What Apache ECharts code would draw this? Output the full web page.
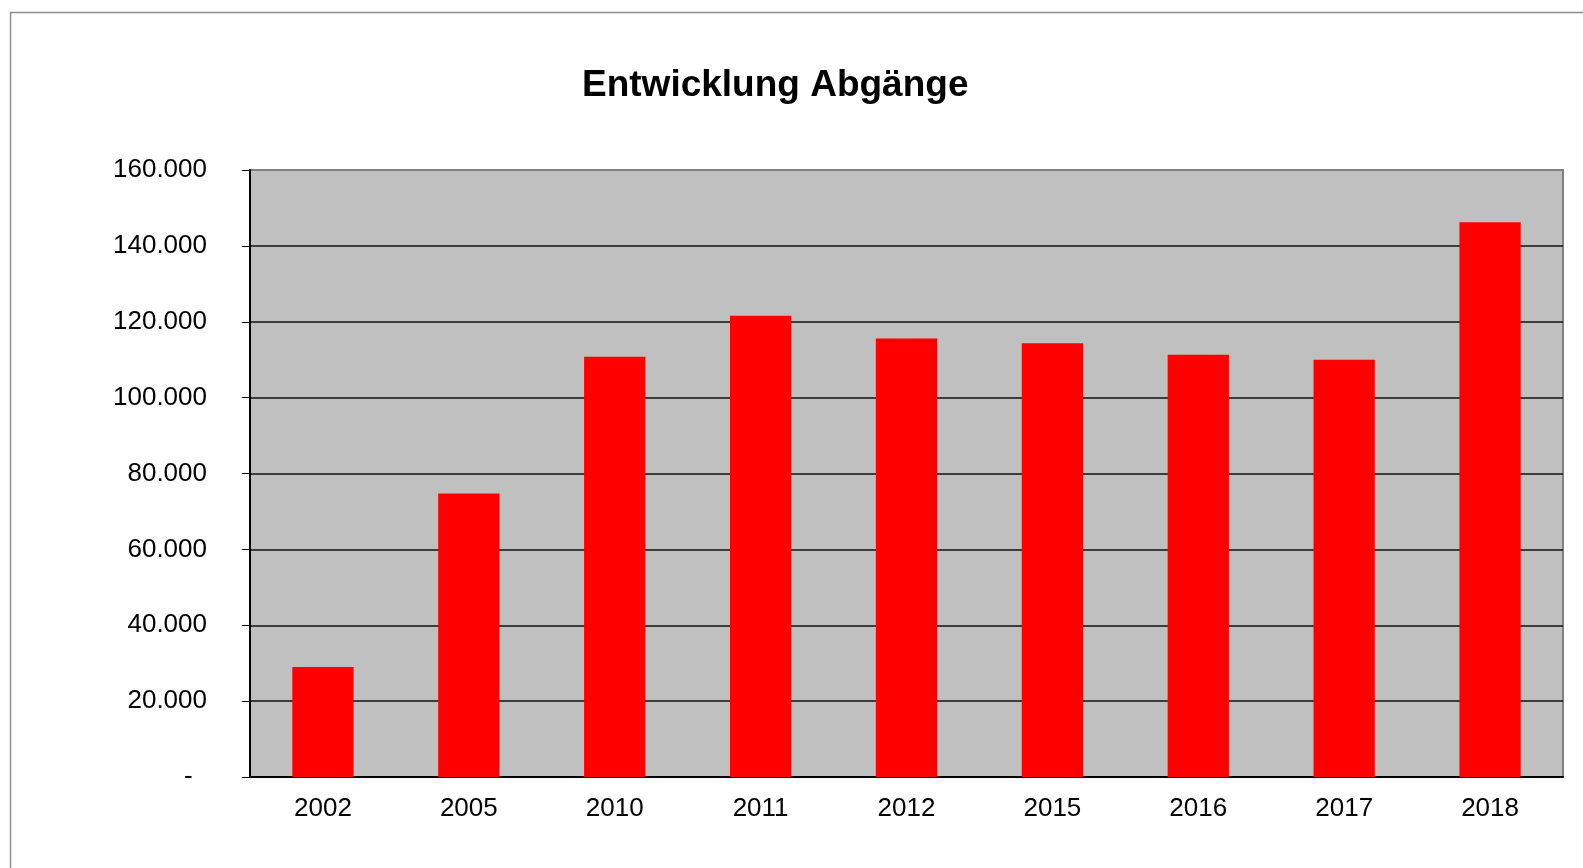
<!DOCTYPE html>
<html>
<head>
<meta charset="utf-8">
<title>Entwicklung Abgänge</title>
<script src="https://cdn.jsdelivr.net/npm/echarts@6/dist/echarts.min.js"></script>
<style>
  html, body { margin: 0; padding: 0; background: #fff; }
  #chart { width: 1583px; height: 868px; }
</style>
</head>
<body>
<div id="chart"></div>
<script>
// Jahre und Abgänge
const years = ['2002', '2005', '2010', '2011', '2012', '2015', '2016', '2017', '2018']
const abgaenge = [29000, 74700, 110800, 121600, 115600, 114300, 111300, 110000, 146200]

const yMin = 0
const yMax = 160000
const yStep = 20000

function fmtTausend(v) {
  if (v === 0) return '-  ' // wie im Excel-Format, etwas eingerückt
  return String(v).replace(/\B(?=(\d{3})+(?!\d))/g, '.')
}

const chart = echarts.init(document.getElementById('chart'))

chart.setOption({
  backgroundColor: '#fff',
  animation: false,
  textStyle: { fontFamily: 'Liberation Sans, Arial, sans-serif' },
  title: {
    text: 'Entwicklung Abgänge',
    left: 577,
    top: 62,
    textStyle: {
      fontSize: 37,
      fontWeight: 'bold',
      color: '#000',
      fontFamily: 'Liberation Sans, Arial, sans-serif'
    }
  },
  // äußerer Rahmen
  graphic: [{
    type: 'rect',
    shape: { x: 10.5, y: 12.5, width: 1700, height: 1000 },
    style: { fill: 'none', stroke: '#8c8c8c', lineWidth: 1.5 },
    silent: true
  }],
  grid: {
    left: 250,
    top: 170,
    right: 20,
    bottom: 91,
    show: true,
    backgroundColor: '#c0c0c0',
    borderColor: '#808080',
    borderWidth: 2
  },
  xAxis: {
    type: 'category',
    data: years,
    axisLine: { lineStyle: { color: '#000', width: 2 } },
    axisTick: { length: 8, lineStyle: { color: '#000' } },
    axisLabel: { margin: 19, fontSize: 26, color: '#000' }
  },
  yAxis: {
    type: 'value',
    min: yMin,
    max: yMax,
    interval: yStep,
    axisLine: { show: true, lineStyle: { color: '#000', width: 2 } },
    axisTick: { show: true, length: 8, lineStyle: { color: '#000' } },
    axisLabel: { margin: 43, fontSize: 26, color: '#000', formatter: fmtTausend },
    splitLine: { showMaxLine: false, lineStyle: { color: '#111', width: 1.5 } }
  },
  series: [{
    type: 'bar',
    data: abgaenge,
    barWidth: '42%',
    itemStyle: { color: '#ff0000' }
  }]
})
</script>
</body>
</html>
